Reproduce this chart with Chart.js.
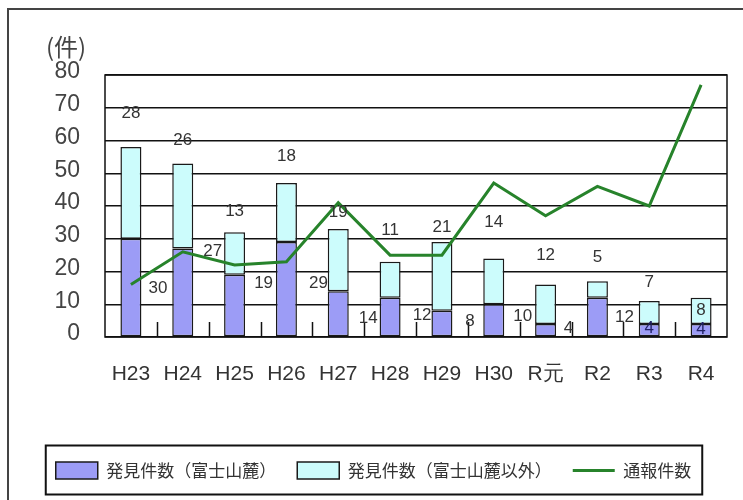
<!DOCTYPE html>
<html>
<head>
<meta charset="utf-8">
<script src="https://cdn.jsdelivr.net/npm/chart.js@4/dist/chart.umd.min.js"></script>
<style>
  html, body { margin: 0; padding: 0; background: #fff; }
  #wrap { width: 743px; height: 500px; }
</style>
</head>
<body>
<div id="wrap"><canvas id="chart" width="743" height="500"></canvas></div>
<script>
"use strict";

// 年度
const years = ["H23", "H24", "H25", "H26", "H27", "H28", "H29", "H30", "R元", "R2", "R3", "R4"];
// 発見件数（富士山麓）
const foundFuji = [30, 27, 19, 29, 14, 12, 8, 10, 4, 12, 4, 4];
// 発見件数（富士山麓以外）
const foundOther = [28, 26, 13, 18, 19, 11, 21, 14, 12, 5, 7, 8];
// 通報件数
const reports = [16, 26, 22, 23, 41, 25, 25, 47, 37, 46, 40, 77];
const yTicks = [0, 10, 20, 30, 40, 50, 60, 70, 80];

// ラベルの置き場所（元の図のまま、軸の値で指定）
const otherLabelAt = [68.3, 60, 38.4, 55.2, 38.1, 32.6, 33.5, 35, 25, 24.4, 16.8, 8.2];
const fujiLabelAt = [14.9, 26.2, 16.5, 16.5, 5.8, 6.7, 4.9, 6.4, 2.7, 6.1, 2.7, 2.4];
const fujiLabelDx = [27, 30, 29, 32, 30, 32, 28, 29, 23, 27, 0, 0];

const sans = '"Liberation Sans", Arial, sans-serif';
const jp = '"Noto Sans CJK JP", "Noto Sans", sans-serif';

// 外枠・プロット枠・目盛り・数値ラベル
const decorations = {
  id: "decorations",
  beforeDraw(chart) {
    const ctx = chart.ctx;
    ctx.save();
    ctx.strokeStyle = "#444";
    ctx.lineWidth = 2;
    ctx.beginPath();
    ctx.moveTo(8, 500);
    ctx.lineTo(8, 9);
    ctx.lineTo(743, 9);
    ctx.stroke();
    ctx.restore();
  },
  afterDatasetsDraw(chart) {
    const ctx = chart.ctx;
    const area = chart.chartArea;
    const x = chart.scales.x;
    const y = chart.scales.y;
    ctx.save();

    // プロット枠
    ctx.strokeStyle = "#111";
    ctx.lineWidth = 1.5;
    ctx.strokeRect(area.left, area.top, area.right - area.left, area.bottom - area.top);

    // 区切り目盛り（内向き）
    ctx.beginPath();
    for (let i = 1; i < years.length; i++) {
      const px = Math.round((x.getPixelForValue(i - 1) + x.getPixelForValue(i)) / 2) + 0.5;
      ctx.moveTo(px, area.bottom);
      ctx.lineTo(px, area.bottom - 15);
    }
    ctx.stroke();

    // 数値ラベル
    ctx.font = "17px " + sans;
    ctx.textAlign = "center";
    ctx.textBaseline = "middle";
    const bars = chart.getDatasetMeta(0).data;
    years.forEach((_, i) => {
      const bx = bars[i].x;
      ctx.fillStyle = "#333";
      ctx.fillText(String(foundOther[i]), bx, y.getPixelForValue(otherLabelAt[i]));
      ctx.fillStyle = fujiLabelDx[i] === 0 ? "#222266" : "#333";
      ctx.fillText(String(foundFuji[i]), bx + fujiLabelDx[i], y.getPixelForValue(fujiLabelAt[i]));
    });

    // 単位
    ctx.font = "24px " + jp;
    ctx.fillStyle = "#444";
    ctx.fillText("(件)", area.left - 39, area.top - 28);
    ctx.restore();
  },
  afterDraw(chart) {
    const lg = chart.legend;
    if (!lg || !lg.legendHitBoxes.length) return;
    const boxes = lg.legendHitBoxes;
    const left = Math.min(...boxes.map(b => b.left)) - 10;
    const right = Math.max(...boxes.map(b => b.left + b.width)) + 11;
    const cy = boxes[0].top + boxes[0].height / 2;
    const ctx = chart.ctx;
    ctx.save();
    ctx.strokeStyle = "#111";
    ctx.lineWidth = 2;
    ctx.strokeRect(left, cy - 25, right - left, 49);
    ctx.restore();
  }
};

new Chart(document.getElementById("chart"), {
  type: "bar",
  data: {
    labels: years,
    datasets: [
      {
        label: "発見件数（富士山麓）",
        data: foundFuji,
        backgroundColor: "#9c9cf6",
        borderColor: "#1a1a1a",
        borderWidth: 1.5,
        borderSkipped: false,
        barPercentage: 0.81,
        categoryPercentage: 0.5,
        stack: "found",
        order: 1
      },
      {
        label: "発見件数（富士山麓以外）",
        data: foundOther,
        backgroundColor: "#ccfcfc",
        borderColor: "#1a1a1a",
        borderWidth: 1.5,
        borderSkipped: false,
        barPercentage: 0.81,
        categoryPercentage: 0.5,
        stack: "found",
        order: 1
      },
      {
        type: "line",
        label: "通報件数",
        data: reports,
        borderColor: "#27832b",
        backgroundColor: "#27832b",
        borderWidth: 3,
        pointRadius: 0,
        tension: 0,
        stack: "report",
        order: 0
      }
    ]
  },
  options: {
    responsive: false,
    animation: false,
    layout: { padding: { left: 20, right: 16, top: 75, bottom: 11 } },
    scales: {
      x: {
        stacked: true,
        grid: { display: false, drawTicks: false },
        border: { display: false },
        ticks: { color: "#333", font: { size: 21, family: sans }, padding: 25, maxRotation: 0, autoSkip: false },
        afterFit(scale) { scale.height = 104; }
      },
      y: {
        stacked: true,
        min: yTicks[0],
        max: yTicks[yTicks.length - 1],
        afterBuildTicks(scale) { scale.ticks = yTicks.map(v => ({ value: v })); },
        grid: { color: "#111", lineWidth: 1.5, drawTicks: false },
        border: { display: false },
        ticks: { color: "#444", font: { size: 23, family: sans }, padding: 25, labelOffset: -3 },
        afterFit(scale) { scale.width = 85; }
      }
    },
    plugins: {
      tooltip: { enabled: false },
      legend: {
        position: "bottom",
        labels: {
          usePointStyle: true,
          pointStyleWidth: 42,
          boxHeight: 17,
          padding: 21,
          color: "#333",
          font: { size: 17, family: jp },
          generateLabels(chart) {
            const items = Chart.defaults.plugins.legend.labels.generateLabels(chart);
            items.sort((a, b) => a.datasetIndex - b.datasetIndex);
            items.forEach(it => { it.pointStyle = it.datasetIndex === 2 ? "line" : "rect"; });
            return items;
          }
        }
      }
    }
  },
  plugins: [decorations]
});
</script>
</body>
</html>
